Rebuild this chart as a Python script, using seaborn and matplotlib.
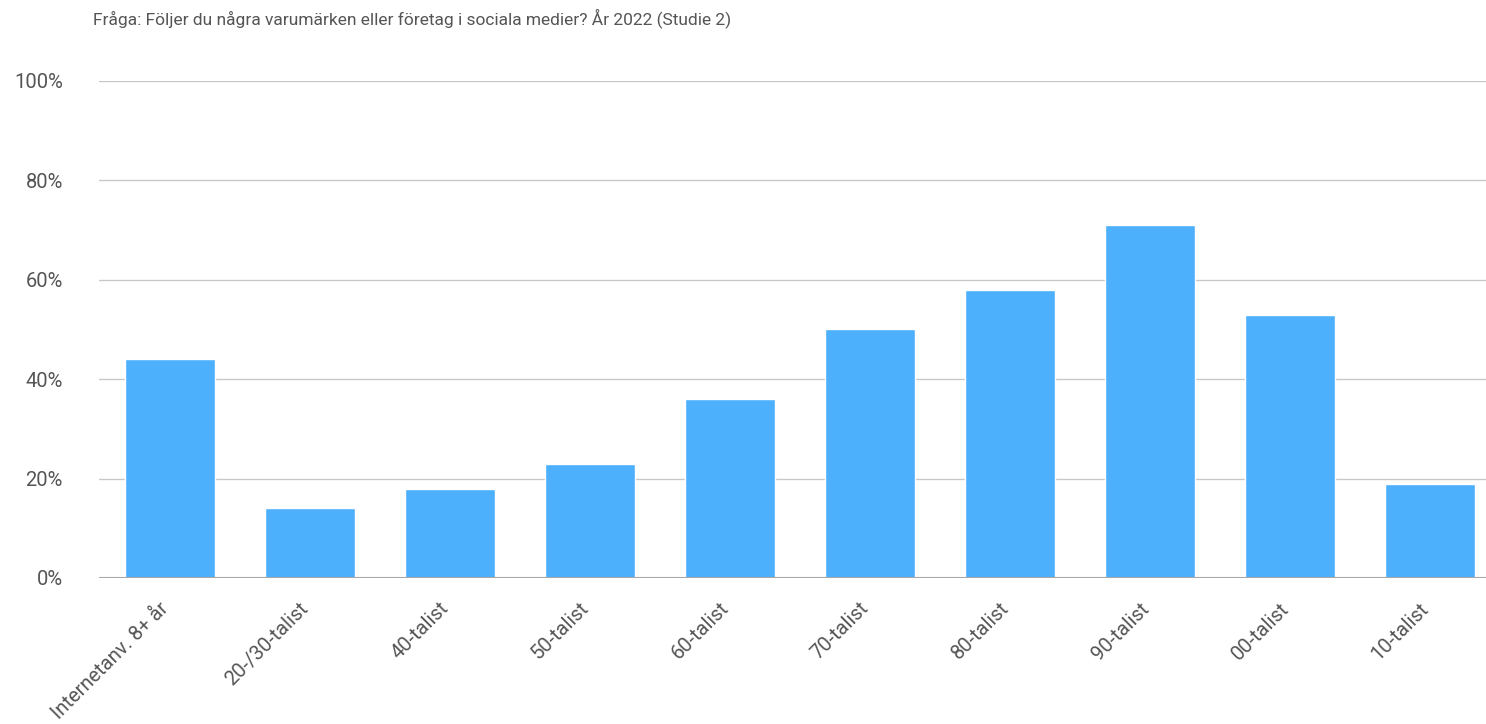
import pandas as pd
import seaborn as sns
import matplotlib.pyplot as plt
import matplotlib.transforms as mtransforms
from matplotlib.ticker import PercentFormatter

# Data
categories = ["Internetanv. 8+ år", "20-/30-talist", "40-talist", "50-talist", "60-talist",
              "70-talist", "80-talist", "90-talist", "00-talist", "10-talist"]
values = [44, 14, 18, 23, 36, 50, 58, 71, 53, 19]
title = "Fråga: Följer du några varumärken eller företag i sociala medier? År 2022 (Studie 2)"

df = pd.DataFrame({"grupp": categories, "andel": values})

sns.set_theme(style="white")
plt.rcParams["font.family"] = ["Roboto", "DejaVu Sans"]

fig = plt.figure(figsize=(14.86, 7.24), dpi=100)
ax = fig.add_axes([0.0666, 0.2017, 0.9334, 0.6865])

sns.barplot(data=df, x="grupp", y="andel", color="#4db0fd", saturation=1,
            width=0.64, ax=ax, zorder=3)

ax.set_ylim(0, 100)
ax.set_xlim(-0.507, 9.4)
ax.set_yticks(range(0, 101, 20))
ax.yaxis.set_major_formatter(PercentFormatter(decimals=0))
ax.grid(axis="y", color="#c8c8c8", linewidth=1, zorder=0)
ax.axhline(0, color="#a8a8a8", linewidth=1.5, zorder=4)
for s in ax.spines.values():
    s.set_visible(False)

ax.set_xlabel("")
ax.set_ylabel("")
ax.tick_params(axis="y", length=0, pad=26, labelsize=14.5, labelcolor="#555555")
ax.tick_params(axis="x", length=0, pad=10, labelsize=14.5, labelcolor="#555555")
plt.setp(ax.get_xticklabels(), rotation=45, ha="right", rotation_mode="anchor")

# flytta etiketterna lite åt vänster och ned
offset = mtransforms.ScaledTranslation(-11 / 100, -7 / 100, fig.dpi_scale_trans)
for lbl in ax.get_xticklabels():
    lbl.set_transform(lbl.get_transform() + offset)

fig.text(93 / 1486, 1 - 18 / 724, title, fontsize=12.5, color="#555555", va="center")

fig.savefig("out.png", dpi=100)
